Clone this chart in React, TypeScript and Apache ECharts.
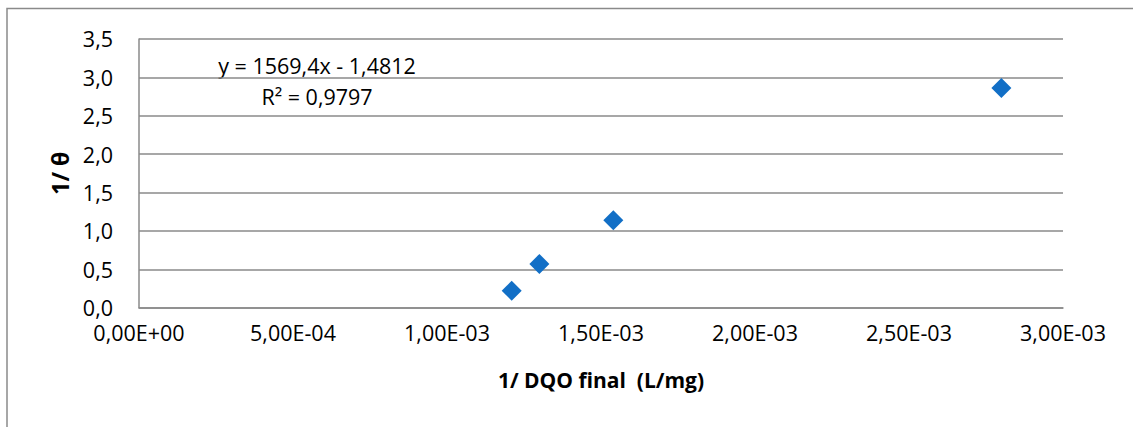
import React, { useEffect, useRef } from "react";
import * as echarts from "echarts";

const xValues = [0.00121, 0.0013, 0.00154, 0.0028];
const yValues = [0.22, 0.57, 1.14, 2.86];
const equationText = "y = 1569,4x - 1,4812";
const r2Text = "R² = 0,9797";
const xTitle = "1/ DQO final  (L/mg)";
const yTitle = "1/ θ";

const FONT = "'Open Sans', 'Noto Sans', sans-serif";
const GRID_COLOR = "#8a8a8a";

function fmtX(v: number): string {
  if (Math.abs(v) < 1e-12) return "0,00E+00";
  const s = v.toExponential(2);
  const [m, e] = s.split("e");
  const exp = parseInt(e, 10);
  const sign = exp < 0 ? "-" : "+";
  const ea = String(Math.abs(exp)).padStart(2, "0");
  return m.replace(".", ",") + "E" + sign + ea;
}

function fmtY(v: number): string {
  return v.toFixed(1).replace(".", ",");
}

export default function App() {
  const ref = useRef<HTMLDivElement>(null);
  useEffect(() => {
    if (!ref.current) return;
    const chart = echarts.init(ref.current, undefined, { renderer: "svg" });
    const data = xValues.map((x, i) => [x, yValues[i]]);
    chart.setOption({
      animation: false,
      backgroundColor: "#ffffff",
      grid: { left: 139, right: 70, top: 38.9, bottom: 119.3, containLabel: false },
      xAxis: {
        type: "value",
        min: 0,
        max: 0.003,
        interval: 0.0005,
        name: xTitle,
        nameLocation: "middle",
        nameGap: 62,
        nameTextStyle: { fontFamily: FONT, fontSize: 21, fontWeight: "bold", color: "#000" },
        axisLine: { show: true, lineStyle: { color: GRID_COLOR, width: 1.5 } },
        axisTick: { show: false },
        splitLine: { show: false },
        axisLabel: {
          formatter: (v: number) => fmtX(v),
          fontFamily: FONT,
          fontSize: 21.5,
          color: "#000",
          margin: 14,
        },
      },
      yAxis: {
        type: "value",
        min: 0,
        max: 3.5,
        interval: 0.5,
        name: yTitle,
        nameLocation: "middle",
        nameGap: 68,
        nameRotate: 90,
        nameTextStyle: { fontFamily: FONT, fontSize: 23, fontWeight: "bold", color: "#000" },
        axisLine: { show: true, lineStyle: { color: GRID_COLOR, width: 1.5 } },
        axisTick: { show: false },
        splitLine: { show: true, lineStyle: { color: GRID_COLOR, width: 1.5 } },
        axisLabel: {
          formatter: (v: number) => fmtY(v),
          fontFamily: FONT,
          fontSize: 21.5,
          color: "#000",
          margin: 26,
        },
      },
      series: [
        {
          type: "scatter",
          data,
          symbol: "diamond",
          symbolSize: 20,
          itemStyle: { color: "#126fc6", opacity: 1 },
        },
      ],
      graphic: [
        {
          type: "rect",
          shape: { x: 7, y: 8.5, width: 1200, height: 500 },
          style: { fill: "none", stroke: GRID_COLOR, lineWidth: 1.5 },
          silent: true,
          z: -1,
        },
        {
          type: "text",
          x: 317,
          y: 65,
          style: {
            text: equationText,
            fontFamily: FONT,
            fontSize: 21.5,
            fill: "#000",
            align: "center",
            verticalAlign: "middle",
          },
        },
        {
          type: "text",
          x: 317,
          y: 96,
          style: {
            text: r2Text,
            fontFamily: FONT,
            fontSize: 21.5,
            fill: "#000",
            align: "center",
            verticalAlign: "middle",
          },
        },
      ],
    });
    return () => chart.dispose();
  }, []);
  return (
    <div
      ref={ref}
      style={{ position: "fixed", left: 0, top: 0, width: 1133, height: 427, background: "#fff" }}
    />
  );
}
